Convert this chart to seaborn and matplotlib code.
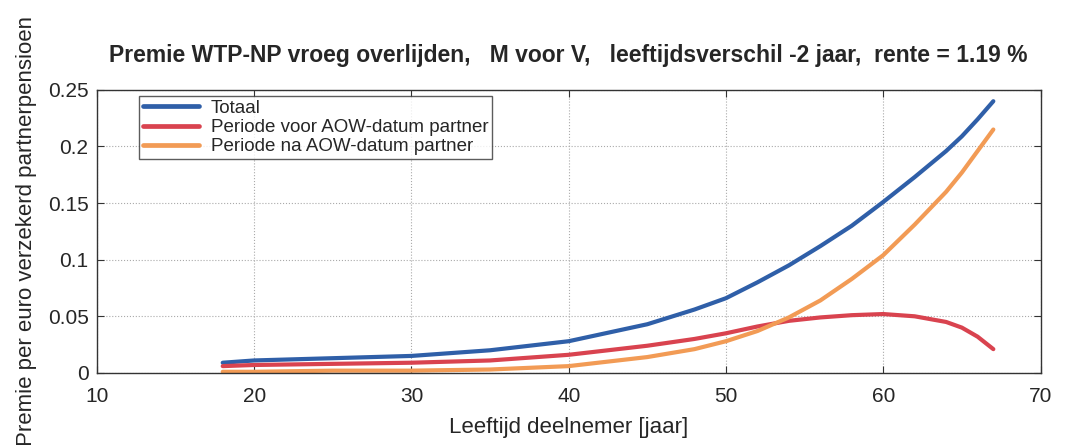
import pandas as pd
import numpy as np
import matplotlib
matplotlib.use('Agg')
import matplotlib.pyplot as plt
import seaborn as sns

leeftijd = [18, 20, 25, 30, 35, 40, 45, 48, 50, 52, 54, 56, 58, 60, 62, 64, 65, 66, 67]
totaal = [0.009, 0.011, 0.013, 0.015, 0.020, 0.028, 0.043, 0.056, 0.066, 0.080, 0.095,
          0.112, 0.130, 0.151, 0.173, 0.196, 0.209, 0.224, 0.240]
voor_aow = [0.006, 0.007, 0.008, 0.009, 0.011, 0.016, 0.024, 0.030, 0.035, 0.041, 0.046,
            0.049, 0.051, 0.052, 0.050, 0.045, 0.040, 0.032, 0.021]
na_aow = [0.001, 0.001, 0.002, 0.002, 0.003, 0.006, 0.014, 0.021, 0.028, 0.037, 0.049,
          0.064, 0.083, 0.104, 0.131, 0.160, 0.177, 0.196, 0.215]

labels = ['Totaal', 'Periode voor AOW-datum partner', 'Periode na AOW-datum partner']
kleuren = ['#2f5fa8', '#d9434f', '#f29b55']

df = pd.DataFrame({'leeftijd': leeftijd, labels[0]: totaal, labels[1]: voor_aow, labels[2]: na_aow})
df = df.melt(id_vars='leeftijd', var_name='serie', value_name='premie')

sns.set_style('ticks')
plt.rcParams['font.family'] = ['Liberation Sans', 'DejaVu Sans']

fig = plt.figure(figsize=(10.65, 4.45), dpi=100)
ax = fig.add_axes([0.091, 0.162, 0.886, 0.636])

sns.lineplot(data=df, x='leeftijd', y='premie', hue='serie', hue_order=labels,
             palette=kleuren, linewidth=3.0, ax=ax)

ax.set_xlim(10, 70)
ax.set_ylim(0, 0.25)
ax.set_xticks([10, 20, 30, 40, 50, 60, 70])
ax.set_yticks([0, 0.05, 0.1, 0.15, 0.2, 0.25])
ax.set_yticklabels(['0', '0.05', '0.1', '0.15', '0.2', '0.25'])
ax.tick_params(direction='in', top=True, right=True, labelsize=15, length=5, color='#333333')
ax.tick_params(axis='x', pad=10)
ax.tick_params(axis='y', pad=6)
ax.grid(True, linestyle=':', color='#aaaaaa', linewidth=0.8)
for s in ax.spines.values():
    s.set_color('#333333')
    s.set_linewidth(1.0)

ax.set_xlabel('Leeftijd deelnemer [jaar]', fontsize=16, labelpad=8)
ax.set_ylabel('Premie per euro verzekerd partnerpensioen', fontsize=16, labelpad=8)
ax.set_title('Premie WTP-NP vroeg overlijden,   M voor V,   leeftijdsverschil -2 jaar,  rente = 1.19 %',
             fontsize=16.5, fontweight='bold', pad=20)

leg = ax.legend(loc='upper left', bbox_to_anchor=(0.035, 1.012), fontsize=13.5, frameon=True,
                fancybox=False, edgecolor='#333333', handlelength=3.0, borderpad=0.2,
                labelspacing=0.12, handletextpad=0.6)
leg.get_frame().set_linewidth(1.0)
for line in leg.get_lines():
    line.set_linewidth(3.4)

fig.savefig('out.png', dpi=100)
